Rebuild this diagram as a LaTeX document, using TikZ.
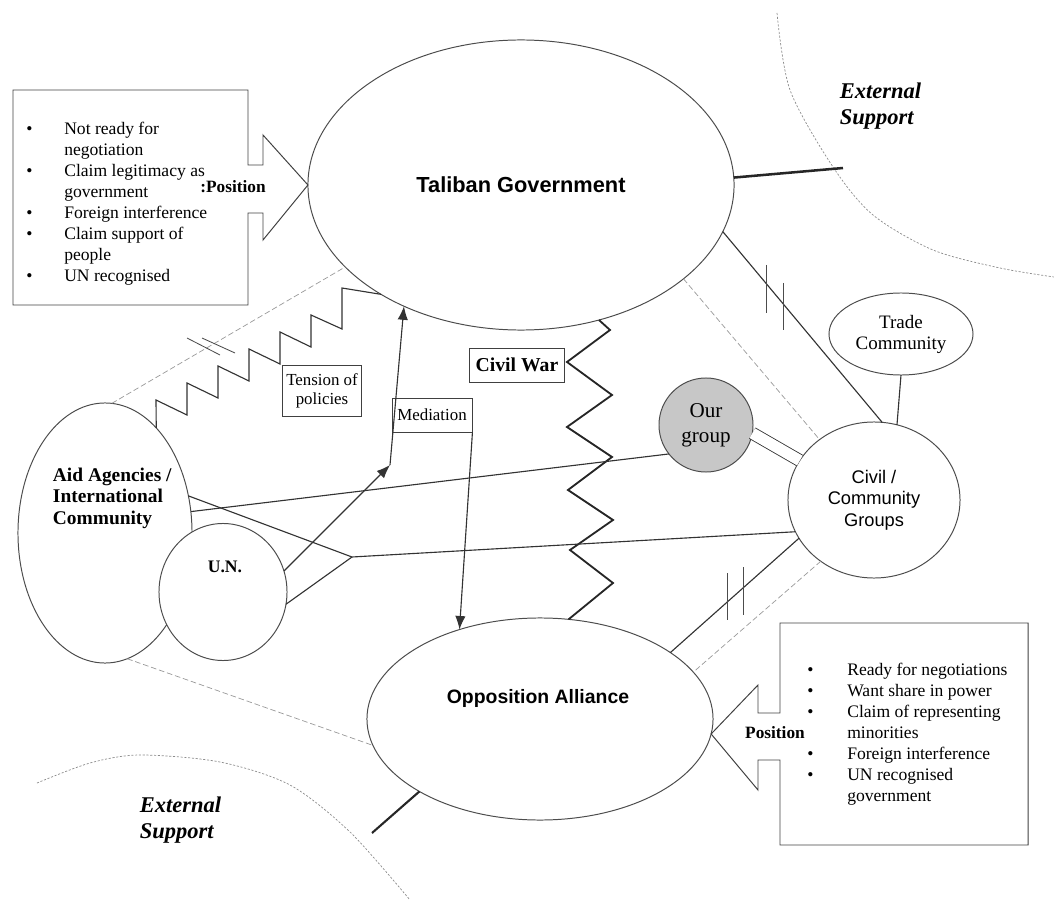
\documentclass[tikz,border=0pt]{standalone}
\usepackage{fontspec}
\setmainfont{Liberation Serif}
\setsansfont{Liberation Sans}
\usetikzlibrary{shapes.geometric,arrows.meta}
\tikzset{
  blob/.style={ellipse, draw=black!70, line width=0.7pt, inner sep=0pt, outer sep=0pt},
  link/.style={black!80, line width=0.8pt},
  faint/.style={black!40, line width=0.5pt, dash pattern=on 4pt off 2pt},
  halo/.style={black!45, line width=0.5pt, dash pattern=on 1.5pt off 1.2pt},
  tag/.style={draw=black!75, line width=0.6pt, inner sep=0pt},
  hatch/.style={black!70, line width=0.6pt},
  medarrow/.style={-{Latex[length=3.4mm,width=2.6mm]}}
}
\begin{document}
\begin{tikzpicture}[x=0.025cm, y=-0.025cm]
    \useasboundingbox (0,0) rectangle (1054,919);

    % actors
    \node[blob, minimum width=10.65cm, minimum height=7.25cm, font=\sffamily\bfseries\fontsize{15.5}{18}\selectfont] (tal) at (521,185) {Taliban Government};
    \node[blob, minimum width=8.65cm, minimum height=5.05cm] (opp) at (540,719) {};
    \node[font=\sffamily\bfseries\fontsize{13.8}{16}\selectfont] (opptxt) at (538,698) {Opposition Alliance};
    \node[blob, minimum width=4.35cm, minimum height=6.5cm] (aid) at (105,533) {};
    \node[anchor=west, align=left, font=\bfseries\fontsize{13.8}{15.3}\selectfont] (aidtxt) at (48,498) {Aid Agencies /\\International\\Community};
    \node[blob, fill=white, minimum width=3.2cm, minimum height=3.425cm] (un) at (223,592) {};
    \node[font=\bfseries\fontsize{12.5}{14}\selectfont] (untxt) at (225,567) {U.N.};
    \node[blob, minimum width=3.6cm, minimum height=2.05cm, align=center, font=\fontsize{13.5}{14.9}\selectfont] (trade) at (901,334) {Trade\\Community};
    \node[blob, minimum width=4.3cm, minimum height=3.9cm, align=center, font=\sffamily\fontsize{13}{15.3}\selectfont] (civ) at (874,500) {Civil /\\Community\\Groups};
    \node[blob, fill=black!22, minimum width=2.35cm, minimum height=2.35cm, align=center, font=\fontsize{15}{17.7}\selectfont] (our) at (706,425) {Our\\group};

    % outside support
    \draw[halo] plot[smooth] coordinates {(777,13) (790,90) (833,167) (873,215) (933,250) (1000,268) (1054,277)};
    \draw[halo] plot[smooth] coordinates {(37,783) (90,763) (140,755) (220,762) (290,785) (350,832) (410,900)};
    \node[anchor=west, align=left, font=\bfseries\itshape\fontsize{16}{18.5}\selectfont] (extR) at (835,106) {External\\Support};
    \node[anchor=west, align=left, font=\bfseries\itshape\fontsize{16}{18.5}\selectfont] (extL) at (135,820) {External\\Support};
    \coordinate (extRend) at (843,168);
    \coordinate (extLend) at (372,833);
    \draw[black!85, line width=1.8pt] (tal.2) -- (extRend);
    \draw[black!85, line width=1.5pt] (opp.-149) -- (extLend);

    % positions
    \draw[black!75, line width=0.7pt] (13,90) -- (248,90) -- (248,165) -- (263,165) -- (263,135) -- (tal.west)
      -- (263,240) -- (263,213) -- (248,213) -- (248,305) -- (13,305) -- cycle;
    \node[font=\bfseries\fontsize{12.3}{14}\selectfont] (talpos) at (233,187) {:Position};
    \node[anchor=north west, inner sep=0pt, font=\fontsize{12.5}{14.9}\selectfont] (talpts) at (26,119.5) {\begin{tabular}{@{}p{0.95cm}@{}l@{}}
      \textbullet & Not ready for\\
                  & negotiation\\
      \textbullet & Claim legitimacy as\\
                  & government\\
      \textbullet & Foreign interference\\
      \textbullet & Claim support of\\
                  & people\\
      \textbullet & UN recognised
    \end{tabular}};

    \draw[black!75, line width=0.7pt] (780,623) -- (1028,623) -- (1028,845) -- (780,845) -- (780,760) -- (758,760) -- (758,790)
      -- (opp.-5) -- (758,685) -- (758,713) -- (780,713) -- cycle;
    \node[font=\bfseries\fontsize{12.3}{14}\selectfont] (opppos) at (775,733) {Position};
    \node[anchor=north west, inner sep=0pt, font=\fontsize{12.5}{14.9}\selectfont] (opppts) at (807,660.5) {\begin{tabular}{@{}p{1.0cm}@{}l@{}}
      \textbullet & Ready for negotiations\\
      \textbullet & Want share in power\\
      \textbullet & Claim of representing\\
                  & minorities\\
      \textbullet & Foreign interference\\
      \textbullet & UN recognised\\
                  & government
    \end{tabular}};

    % faint ties
    \draw[faint] (aid.87) -- (tal.-155);
    \draw[faint] (aid.-80) -- (opp.-171);
    \draw[faint] (tal.-30) -- (civ.132);
    \draw[faint] (civ.-131) -- (opp.17);

    % tension of policies
    \draw[link] (aid.64) -- (156,400) foreach \i in {1,...,5} { -- ++(31,15) -- ++(0,-32)} -- ++(31,14) -- ++(0,-41) -- (tal.-142);
    \node[tag, minimum width=1.98cm, minimum height=1.275cm, align=center, font=\fontsize{12}{13.5}\selectfont] (tens) at (322,391) {Tension of\\policies};
    \draw[hatch] (187,338) -- (220,355);
    \draw[hatch] (202,338) -- (235,353);

    % civil war
    \node[tag, minimum width=2.375cm, minimum height=0.85cm, font=\bfseries\fontsize{14}{16}\selectfont] (war) at (517,365) {Civil War};
    \draw[black!85, line width=1.3pt] (tal.-60) -- (610,330) -- (567,362) -- (612,395) -- (567,427) -- (612,457)
      -- (568,490) -- (613,520) -- (570,550) -- (613,583) -- (opp.74);

    % mediation
    \node[tag, minimum width=2cm, minimum height=0.85cm, font=\fontsize{12}{14}\selectfont] (med) at (432,415) {Mediation};
    \coordinate (medfoot) at (390,465);
    \draw[link, medarrow] (un.19) -- (medfoot);
    \draw[link, medarrow] (medfoot) -- (tal.-134);
    \draw[link, medarrow] (med.south east) -- (opp.132);

    % community ties
    \coordinate (meet) at (352,557);
    \draw[link] (aid.24) -- (meet) -- (civ.-158);
    \draw[link] (un.-11) -- (meet);
    \draw[link] (aid.14) -- (our.-142);
    \draw[link, line width=0.6pt, double, double distance=0.28cm] (our.-10) -- (civ.152);
    \draw[link] (trade.south) -- (civ.73);
    \draw[link] (tal.-13) -- (civ.84);
    \draw[link] (civ.-153) -- (opp.27);
    \draw[hatch] (766,265) -- (766,313);
    \draw[hatch] (783,283) -- (783,330);
    \draw[hatch] (727,573) -- (727,620);
    \draw[hatch] (743,567) -- (743,615);
\end{tikzpicture}
\end{document}
